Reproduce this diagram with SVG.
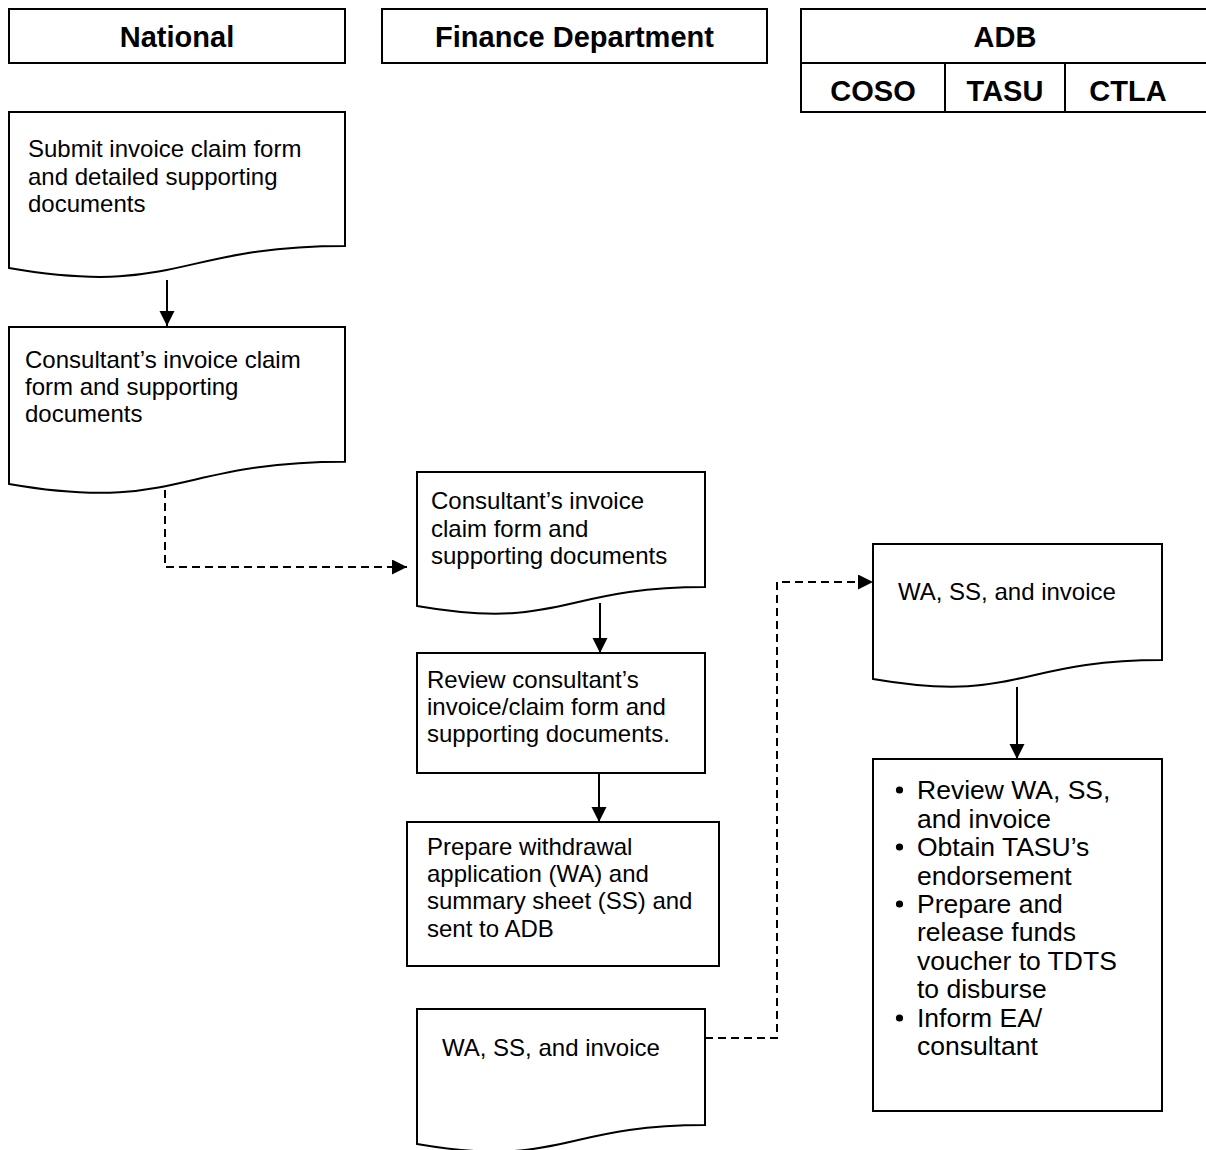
<svg xmlns="http://www.w3.org/2000/svg" width="1206" height="1150" viewBox="0 0 1206 1150">
<style>
.shape{fill:#fff;stroke:#000;stroke-width:2}
.hdr{font-family:"Liberation Sans",Arial,sans-serif;font-weight:bold;font-size:29px;fill:#000;text-anchor:middle}
.t{font-family:"Liberation Sans",Arial,sans-serif;font-size:24px;fill:#000}
.b{font-family:"Liberation Sans",Arial,sans-serif;font-size:26.5px;fill:#000}
.conn{fill:none;stroke:#000;stroke-width:2}
.dash{stroke-dasharray:8 5}
</style>
<defs>
<marker id="arr" markerUnits="userSpaceOnUse" markerWidth="16" markerHeight="16" refX="15" refY="7.5" orient="auto">
<path d="M0,0 L15,7.5 L0,15 Z" fill="#000"/>
</marker>
</defs>
<rect width="1206" height="1150" fill="#fff"/>
<g id="hdr-national">
<rect class="shape" x="9" y="9" width="336" height="54"/>
<text class="hdr" x="177" y="47">National</text>
</g>
<g id="hdr-finance">
<rect class="shape" x="382" y="9" width="385" height="54"/>
<text class="hdr" x="574.5" y="47">Finance Department</text>
</g>
<g id="hdr-adb">
<rect class="shape" x="801" y="9" width="420" height="103"/>
<line class="shape" x1="801" y1="63" x2="1221" y2="63"/>
<line class="shape" x1="945" y1="63" x2="945" y2="112"/>
<line class="shape" x1="1065" y1="63" x2="1065" y2="112"/>
<text class="hdr" x="1005" y="47">ADB</text>
<text class="hdr" x="873" y="101">COSO</text>
<text class="hdr" x="1005" y="101">TASU</text>
<text class="hdr" x="1128" y="101">CTLA</text>
</g>
<g id="doc-submit">
<path class="shape" d="M9,112 H345 V246 C177,246 177,297 9,268 Z"/>
<text class="t" x="28" y="157">Submit invoice claim form</text>
<text class="t" x="28" y="185">and detailed supporting</text>
<text class="t" x="28" y="212">documents</text>
</g>
<g id="doc-consultant-national">
<path class="shape" d="M9,327 H345 V461.7 C177,461.7 177,513 9,484 Z"/>
<text class="t" x="25" y="368">Consultant’s invoice claim</text>
<text class="t" x="25" y="395">form and supporting</text>
<text class="t" x="25" y="422">documents</text>
</g>
<g id="doc-consultant-finance">
<path class="shape" d="M417,472 H705 V587 C561,587 561,631 417,606 Z"/>
<text class="t" x="431" y="509">Consultant’s invoice</text>
<text class="t" x="431" y="537">claim form and</text>
<text class="t" x="431" y="564">supporting documents</text>
</g>
<g id="box-review">
<rect class="shape" x="417" y="653" width="288" height="120"/>
<text class="t" x="427" y="688">Review consultant’s</text>
<text class="t" x="427" y="715">invoice/claim form and</text>
<text class="t" x="427" y="742">supporting documents.</text>
</g>
<g id="box-prepare">
<rect class="shape" x="407" y="822" width="312" height="144"/>
<text class="t" x="427" y="855">Prepare withdrawal</text>
<text class="t" x="427" y="882">application (WA) and</text>
<text class="t" x="427" y="909">summary sheet (SS) and</text>
<text class="t" x="427" y="937">sent to ADB</text>
</g>
<g id="doc-wa-finance">
<path class="shape" d="M417,1009 H705 V1125 C561,1125 561,1169 417,1144 Z"/>
<text class="t" x="442" y="1056">WA, SS, and invoice</text>
</g>
<g id="doc-wa-adb">
<path class="shape" d="M873,544 H1162 V660 C1017.5,660 1017.5,704 873,679 Z"/>
<text class="t" x="898" y="600">WA, SS, and invoice</text>
</g>
<g id="box-ctla">
<rect class="shape" x="873" y="759" width="289" height="352"/>
<circle cx="899.5" cy="790" r="3.6"/>
<circle cx="899.5" cy="847" r="3.6"/>
<circle cx="899.5" cy="904" r="3.6"/>
<circle cx="899.5" cy="1018" r="3.6"/>
<text class="b" x="917" y="799">Review WA, SS,</text>
<text class="b" x="917" y="828">and invoice</text>
<text class="b" x="917" y="856">Obtain TASU’s</text>
<text class="b" x="917" y="885">endorsement</text>
<text class="b" x="917" y="913">Prepare and</text>
<text class="b" x="917" y="941">release funds</text>
<text class="b" x="917" y="970">voucher to TDTS</text>
<text class="b" x="917" y="998">to disburse</text>
<text class="b" x="917" y="1027">Inform EA/</text>
<text class="b" x="917" y="1055">consultant</text>
</g>
<g id="connectors">
<path class="conn" d="M167,280 V326" marker-end="url(#arr)"/>
<path class="conn dash" d="M165,490 V567 H407" marker-end="url(#arr)"/>
<path class="conn" d="M600,603 V653" marker-end="url(#arr)"/>
<path class="conn" d="M599,773 V822" marker-end="url(#arr)"/>
<path class="conn dash" d="M705,1038 H777 V582 H873" marker-end="url(#arr)"/>
<path class="conn" d="M1017,687 V759" marker-end="url(#arr)"/>
</g>
</svg>
